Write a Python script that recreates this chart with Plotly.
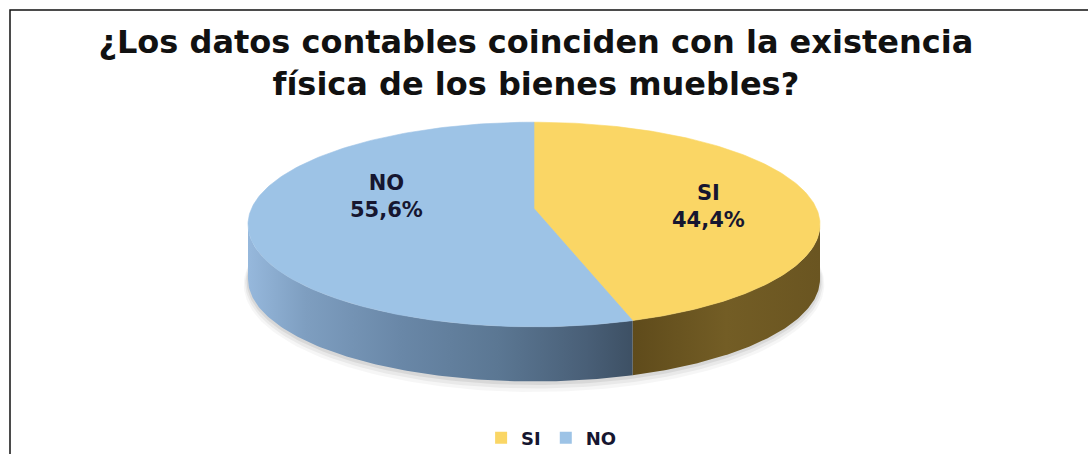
import numpy as np
import plotly.graph_objects as go

# --- data ---
categories = ["SI", "NO"]
percentages = [44.4, 55.6]
value_labels = ["44,4%", "55,6%"]

# --- styles ---
top_colors = ["#FAD665", "#9DC3E6"]
side_scales = [
    [[0.0, "#5F4B1B"], [0.5, "#735D25"], [1.0, "#6A5521"]],
    [[0.0, "#96B8DC"], [0.15, "#7E9EC0"], [0.4, "#6987A7"],
     [0.65, "#5B7793"], [0.88, "#495F77"], [1.0, "#3D5064"]],
]
W, H = 1088, 457
CX, CY = 534.0, 226.0          # ellipse centre (pixels)
RX, RY = 286.0, 103.0          # ellipse radii
APEX_Y = 210.0                 # where slice edges meet on the top face
DEPTH = 55.0                   # thickness of the disc
LABEL_POS = [(708, 208), (386, 198)]
FONT = "DejaVu Sans"


def rim(theta_deg, dy=0.0, sx=1.0, sy=1.0):
    """Point on the ellipse rim; angle measured clockwise from 12 o'clock."""
    t = np.radians(theta_deg)
    return CX + RX * sx * np.sin(t), CY - RY * sy * np.cos(t) + dy


fig = go.Figure()

# soft drop shadow under the disc
for k, alpha in [(9, 0.035), (6, 0.05), (3, 0.07)]:
    th = np.linspace(0, 360, 240)
    x, y = rim(th, dy=DEPTH + k * 0.6, sx=1 + k / 600, sy=1 + k / 180)
    fig.add_trace(go.Scatter(x=x, y=y, fill="toself", mode="lines",
                             line=dict(width=0), fillcolor=f"rgba(0,0,0,{alpha})",
                             hoverinfo="skip", showlegend=False))

# slice angular extents (clockwise from top)
bounds = np.concatenate([[0.0], np.cumsum(percentages) / sum(percentages) * 360.0])

# visible side walls (front half of the disc: 90..270 degrees)
for i, cat in enumerate(categories):
    a = max(bounds[i], 90.0)
    b = min(bounds[i + 1], 270.0)
    if b <= a:
        continue
    th = np.linspace(a, b, 120)
    xt, yt = rim(th)
    xb, yb = rim(th[::-1], dy=DEPTH)
    x = np.concatenate([xt, xb, xt[:1]])
    y = np.concatenate([yt, yb, yt[:1]])
    fig.add_trace(go.Scatter(
        x=x, y=y, fill="toself", mode="lines", line=dict(width=0),
        fillgradient=dict(type="horizontal", colorscale=side_scales[i]),
        hoverinfo="skip", showlegend=False))

# top faces of the slices
for i, cat in enumerate(categories):
    th = np.linspace(bounds[i], bounds[i + 1], 200)
    xa, ya = rim(th)
    x = np.concatenate([[CX], xa, [CX]])
    y = np.concatenate([[APEX_Y], ya, [APEX_Y]])
    fig.add_trace(go.Scatter(
        x=x, y=y, fill="toself", mode="lines",
        line=dict(width=0.6, color=top_colors[i]), fillcolor=top_colors[i],
        name=cat, hovertemplate=f"{cat}: {value_labels[i]}<extra></extra>",
        showlegend=False))

# slice labels
for i, cat in enumerate(categories):
    lx, ly = LABEL_POS[i]
    fig.add_annotation(x=lx, y=ly, xref="x", yref="y", showarrow=False,
                       text=f"<b>{cat}<br>{value_labels[i]}</b>",
                       font=dict(family=FONT, size=21, color="#161630"),
                       align="center")

# legend entries
for i, cat in enumerate(categories):
    fig.add_trace(go.Scatter(
        x=[None], y=[None], mode="markers", name=f"<b>{cat}</b>",
        marker=dict(symbol="square", size=12, color=top_colors[i])))

# chart frame
fig.add_shape(type="rect", xref="x", yref="y", x0=10, y0=10, x1=W + 20, y1=H + 20,
              line=dict(color="#111111", width=1.5), fillcolor="rgba(0,0,0,0)",
              layer="below")

fig.update_layout(
    width=W, height=H,
    margin=dict(l=0, r=0, t=0, b=0),
    paper_bgcolor="white", plot_bgcolor="white",
    title=dict(text="<b>¿Los datos contables coinciden con la existencia<br>"
                    "física de los bienes muebles?</b>",
               x=0.4925, xanchor="center", y=0.883, yanchor="middle",
               font=dict(family=FONT, size=32, color="#111111")),
    xaxis=dict(range=[0, W], visible=False, fixedrange=True),
    yaxis=dict(range=[H, 0], visible=False, fixedrange=True),
    legend=dict(orientation="h", x=0.507, xanchor="center", y=0.035,
                yanchor="middle", font=dict(family=FONT, size=18, color="#161630"),
                itemwidth=30, tracegroupgap=0, bgcolor="rgba(0,0,0,0)"),
)

fig.write_html("out.html")
